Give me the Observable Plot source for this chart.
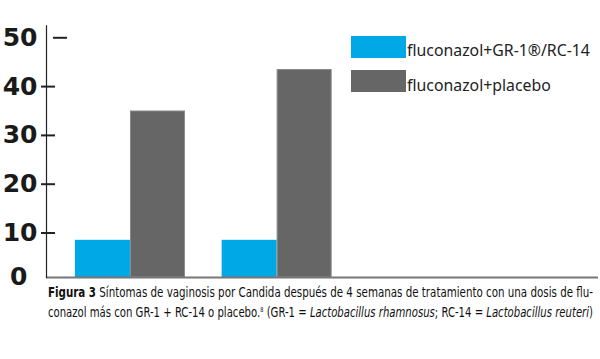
<!DOCTYPE html>
<html>
<head>
<meta charset="utf-8">
<script src="https://cdn.jsdelivr.net/npm/d3@7"></script>
<script src="https://cdn.jsdelivr.net/npm/@observablehq/plot@0.6"></script>
<style>
  html, body { margin: 0; padding: 0; background: #fff; }
  #wrap { position: relative; width: 600px; height: 359px; overflow: hidden; }
  #chart { position: absolute; left: 0; top: 0; }
  .legend-item { position: absolute; left: 351px; height: 22px; width: 260px; }
  .swatch { position: absolute; left: 0; top: 0; width: 55px; height: 22px; }
  .legend-label { position: absolute; left: 56px; white-space: nowrap; font-family: "Noto Sans", "Open Sans", sans-serif; color: #222; line-height: 1; }
  #caption { position: absolute; left: 48px; top: 282.5px; font-family: "DejaVu Sans Condensed", "DejaVu Sans", sans-serif; font-stretch: condensed; font-size: 14px; line-height: 18px; color: #111; }
  #caption .line { display: block; white-space: nowrap; transform-origin: 0 0; width: max-content; }
</style>
</head>
<body>
<div id="wrap">
  <div id="chart"></div>
  <div id="legend"></div>
  <div id="caption">
    <span class="line" id="l1"><b>Figura 3</b> Síntomas de vaginosis por Candida después de 4 semanas de tratamiento con una dosis de flu-</span>
    <span class="line" id="l2">conazol más con GR-1 + RC-14 o placebo.<sup style="font-size:7px;vertical-align:5px">8</sup> (GR-1 = <i>Lactobacillus rhamnosus</i>; RC-14 = <i>Lactobacillus reuteri</i>)</span>
  </div>
</div>
<script>
// ---- data ----
const groups = ["Grupo 1", "Grupo 2"];
const series = ["fluconazol+GR-1®/RC-14", "fluconazol+placebo"];
const probioticValues = [8.5, 8.5];
const placeboValues = [35, 43.5];
const yTicks = [10, 20, 30, 40, 50];
const colors = ["#00a8e6", "#666666"];

const probiotic = groups.map((g, i) => ({group: g, value: probioticValues[i]}));
const placebo = groups.map((g, i) => ({group: g, value: placeboValues[i]}));

const font = "DejaVu Sans";
const plot = Plot.plot({
  width: 600,
  height: 296,
  marginLeft: 46,
  marginRight: 2,
  marginTop: 37.3,
  marginBottom: 14.7,
  style: {fontFamily: font, color: "#1a1a1a", background: "transparent", overflow: "visible"},
  x: {domain: groups, axis: null, paddingInner: 0.25, paddingOuter: 1.0065, align: 0.098, round: false},
  y: {domain: [0, 50], axis: null},
  marks: [
    Plot.barY(probiotic, {x: "group", y: "value", fill: colors[0], insetRight: 55, insetBottom: 4.3}),
    Plot.barY(placebo, {x: "group", y: "value", fill: colors[1], stroke: "#8a8a8a", strokeWidth: 1, insetLeft: 55.5, insetRight: 0.5, insetTop: 0.5, insetBottom: 4.3}),
    Plot.ruleY([0], {dy: -4.3, stroke: "#777", strokeWidth: 2}),
    Plot.frame({anchor: "left", insetTop: -12, insetBottom: 4.3, stroke: "#222", strokeWidth: 1.2}),
    Plot.axisY({ticks: yTicks.slice(0, 4), tickSize: 14, dx: 9, text: null, label: null, stroke: "#222", strokeWidth: 2}),
    Plot.axisY({ticks: yTicks.slice(4), tickSize: 14, dx: 21, text: null, label: null, stroke: "#222", strokeWidth: 2}),
    Plot.axisY({ticks: yTicks, tickSize: 0, tickPadding: 9, label: null, fontSize: 25, fontWeight: "bold", fill: "#1a1a1a"}),
    Plot.axisY({ticks: [0], tickSize: 0, tickPadding: 19, label: null, dy: -5, fontSize: 25, fontWeight: "bold", fill: "#1a1a1a"})
  ]
});
document.getElementById("chart").appendChild(plot);

// ---- legend (HTML overlay) ----
const legend = document.getElementById("legend");
const tops = [35.7, 70.3];
series.forEach((name, i) => {
  const item = document.createElement("div");
  item.className = "legend-item";
  item.style.top = tops[i] + "px";
  const sw = document.createElement("div");
  sw.className = "swatch";
  sw.style.background = colors[i];
  const lab = document.createElement("div");
  lab.className = "legend-label";
  lab.textContent = name;
  lab.style.fontSize = "16px";
  item.appendChild(sw);
  item.appendChild(lab);
  legend.appendChild(item);
});
// fit legend font so the first label spans ~183px
const labs = legend.querySelectorAll(".legend-label");
const w0 = labs[0].getBoundingClientRect().width;
const fs = 16 * 183 / w0;
labs.forEach(l => { l.style.fontSize = fs.toFixed(2) + "px"; l.style.top = (22 - fs * 0.92) + "px"; });

// fit caption lines to the justified width
["l1", "l2"].forEach(id => {
  const el = document.getElementById(id);
  const w = el.getBoundingClientRect().width;
  el.style.transform = `scaleX(${(545 / w).toFixed(4)})`;
});
</script>
</body>
</html>
